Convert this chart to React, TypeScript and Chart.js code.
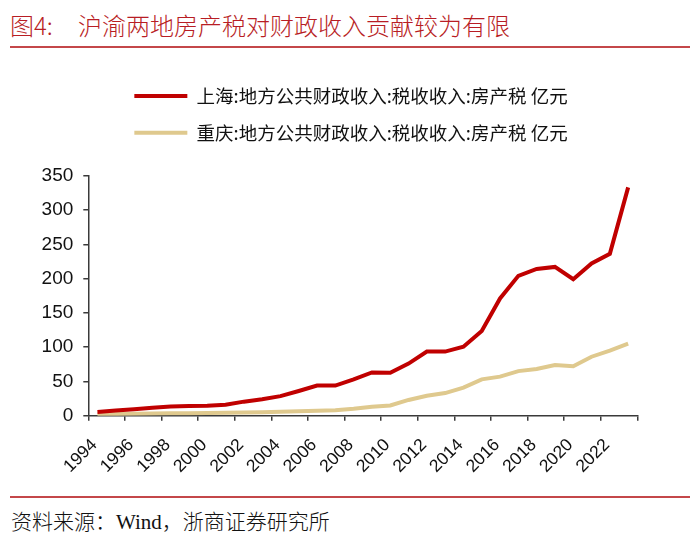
import React, { useEffect, useRef } from "react";
import { Chart, registerables } from "chart.js";

Chart.register(...registerables);

const years = [
  "1994", "1995", "1996", "1997", "1998", "1999", "2000", "2001", "2002", "2003",
  "2004", "2005", "2006", "2007", "2008", "2009", "2010", "2011", "2012", "2013",
  "2014", "2015", "2016", "2017", "2018", "2019", "2020", "2021", "2022", "2023",
];

const shanghai = [
  5.5, 7.5, 9.5, 11.5, 13.5, 14, 14.5, 16, 20.5, 24,
  28.5, 36, 44, 44, 53, 63, 62.5, 76, 93.5, 93.5,
  100.5, 123.5, 171, 204, 214, 217, 199, 222, 236, 333,
];

const chongqing = [
  2, 2.5, 3, 3.3, 3.5, 3.7, 4, 4.3, 4.8, 5.2,
  5.8, 6.5, 7.2, 7.8, 10, 13, 15, 23, 29, 33,
  41, 53, 57, 65, 68, 74, 72, 86, 95, 105,
];

const seriesNames = [
  "上海:地方公共财政收入:税收收入:房产税 亿元",
  "重庆:地方公共财政收入:税收收入:房产税 亿元",
];

const yTicks = [0, 50, 100, 150, 200, 250, 300, 350];

const titleLabel = "图4:";
const titleText = "沪渝两地房产税对财政收入贡献较为有限";
const sourceText = "资料来源：Wind，浙商证券研究所";

const RED = "#C00000";
const TAN = "#DFC98E";
const AXIS = "#3a3a3a";
const RULE = "#C4474A";

const legendPlace = {
  id: "legendPlace",
  beforeInit(chart: any) {
    const orig = chart.legend.fit;
    chart.legend.fit = function fit() {
      orig.bind(chart.legend)();
      this.height += 23.75;
    };
  },
  afterLayout(chart: any) {
    const lg = chart.legend;
    const d = 343 - (lg.left + lg.right) / 2;
    lg.left += d;
    lg.right += d;
  },
};

function ChartView() {
  const ref = useRef<HTMLCanvasElement | null>(null);
  useEffect(() => {
    if (!ref.current) return;
    const tickColor = (ctx: any) =>
      ctx.index === undefined || ctx.index % 2 === 0 ? AXIS : "rgba(0,0,0,0)";
    const chart = new Chart(ref.current, {
      type: "line",
      data: {
        labels: years,
        datasets: [
          {
            label: seriesNames[0],
            data: shanghai,
            borderColor: RED,
            backgroundColor: RED,
            borderWidth: 4,
            pointRadius: 0,
            tension: 0,
          },
          {
            label: seriesNames[1],
            data: chongqing,
            borderColor: TAN,
            backgroundColor: TAN,
            borderWidth: 4,
            pointRadius: 0,
            tension: 0,
          },
        ],
      },
      options: {
        responsive: false,
        animation: false,
        layout: { padding: { left: 20, right: 54.7, top: 8.55, bottom: 0 } },
        plugins: {
          tooltip: { enabled: false },
          legend: {
            position: "top",
            align: "center",
            labels: {
              boxWidth: 53,
              boxHeight: 4,
              padding: 18.2,
              color: "#111",
              font: { size: 18.5, family: "'Noto Sans CJK SC', sans-serif" },
              generateLabels: (c: any) =>
                Chart.defaults.plugins.legend.labels
                  .generateLabels(c)
                  .map((it: any) => ({ ...it, lineWidth: 0, fillStyle: it.strokeStyle })),
            },
          },
        },
        scales: {
          x: {
            type: "category",
            offset: true,
            afterFit: (s: any) => {
              s.height = 80.3;
              s.paddingLeft = 0;
              s.paddingRight = 0;
            },
            grid: {
              display: true,
              offset: true,
              drawOnChartArea: false,
              drawTicks: true,
              tickLength: 5,
              color: tickColor,
              tickColor: tickColor,
              lineWidth: 1.5,
            },
            border: { display: true, color: AXIS, width: 1.5 },
            ticks: {
              autoSkip: false,
              maxRotation: 45,
              minRotation: 45,
              padding: 14,
              labelOffset: -3,
              color: "#111",
              font: { size: 17.5, family: "'Liberation Sans', Arial, sans-serif" },
              callback: (_v: any, i: number) => (i % 2 === 0 ? years[i] : ""),
            },
          },
          y: {
            min: yTicks[0],
            max: yTicks[yTicks.length - 1],
            afterFit: (s: any) => {
              s.width = 60.3;
              s.paddingTop = 0;
              s.paddingBottom = 0;
            },
            afterBuildTicks: (s: any) => {
              s.ticks = yTicks.map((v) => ({ value: v }));
            },
            grid: {
              display: true,
              drawOnChartArea: false,
              drawTicks: true,
              tickLength: 5,
              color: AXIS,
              tickColor: AXIS,
              lineWidth: 1.5,
            },
            border: { display: true, color: AXIS, width: 1.5 },
            ticks: {
              padding: 10,
              color: "#111",
              font: { size: 19, family: "'Liberation Sans', Arial, sans-serif" },
            },
          },
        },
      },
      plugins: [legendPlace],
    } as any);
    return () => chart.destroy();
  }, []);
  return (
    <canvas
      ref={ref}
      width={684}
      height={436}
      style={{ position: "absolute", left: 0, top: 52, width: 684, height: 436, display: "block" }}
    />
  );
}

export default function App() {
  return (
    <div style={{ position: "relative", width: 684, height: 525, background: "#fff" }}>
      <div
        style={{
          position: "absolute",
          left: 2,
          top: 5,
          fontSize: 24,
          lineHeight: "24px",
          color: "#B81D24",
          fontFamily: "'Noto Sans CJK SC', sans-serif",
          fontWeight: 300,
          whiteSpace: "nowrap",
        }}
      >
        <span>{titleLabel}</span>
        <span style={{ position: "absolute", left: 68 }}>{titleText}</span>
      </div>
      <div style={{ position: "absolute", left: 2, top: 38, width: 680, height: 2, background: RULE }} />
      <ChartView />
      <div style={{ position: "absolute", left: 2, top: 488, width: 680, height: 2, background: RULE }} />
      <div
        style={{
          position: "absolute",
          left: 3,
          top: 503,
          fontSize: 21,
          lineHeight: "22px",
          color: "#111",
          fontFamily: "'Liberation Serif', 'Noto Sans CJK SC', serif",
          fontWeight: 300,
          whiteSpace: "nowrap",
        }}
      >
        {sourceText}
      </div>
    </div>
  );
}
